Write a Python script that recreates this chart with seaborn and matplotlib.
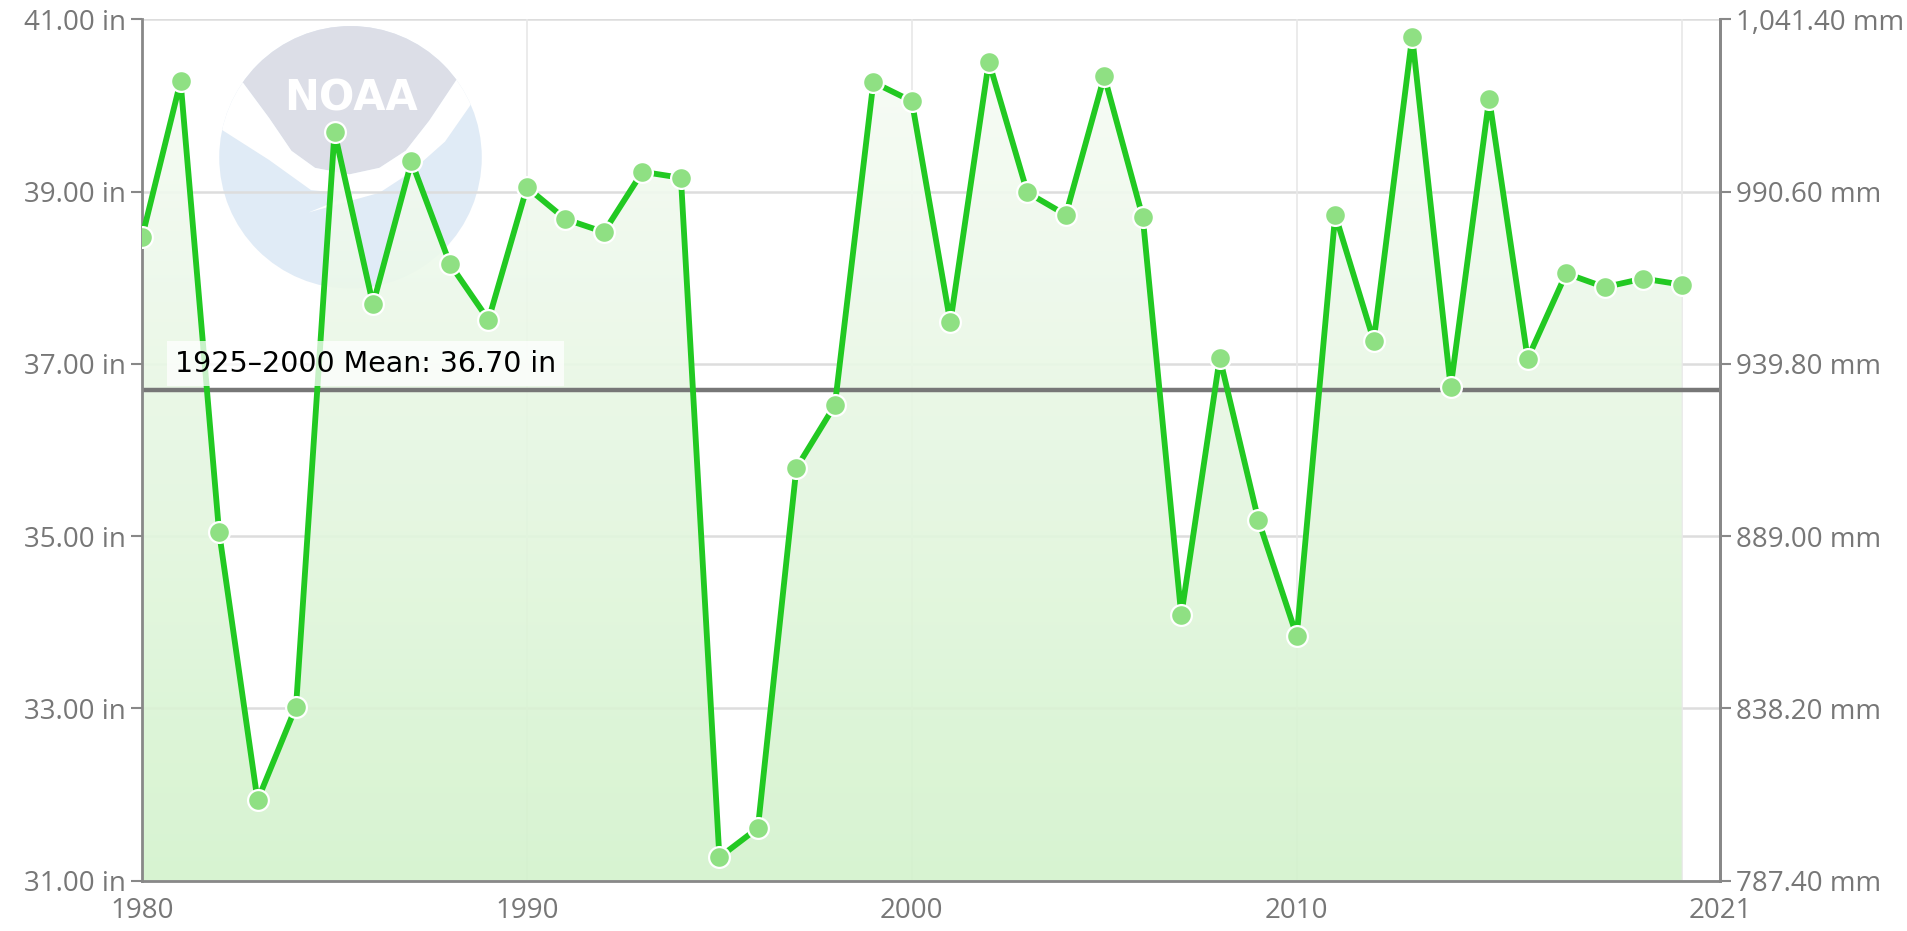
import numpy as np
import pandas as pd
import seaborn as sns
import matplotlib.pyplot as plt
from matplotlib.patches import Circle, Polygon
from matplotlib.ticker import FuncFormatter

# dados anuais de precipitacao (polegadas)
years = list(range(1980, 2021))
precip_in = [38.47, 40.28, 35.05, 31.93, 33.02, 39.69, 37.69, 39.35, 38.16, 37.51,
             39.05, 38.68, 38.53, 39.23, 39.16, 31.27, 31.61, 35.79, 36.52, 40.27,
             40.05, 37.48, 40.51, 38.99, 38.73, 40.34, 38.70, 34.08, 37.07, 35.19,
             33.84, 38.73, 37.27, 40.80, 36.73, 40.08, 37.06, 38.05, 37.89, 37.99,
             37.92]
mean_value = 36.70
mean_label = "1925–2000 Mean: 36.70 in"
y_ticks = [31, 33, 35, 37, 39, 41]
x_ticks = [1980, 1990, 2000, 2010, 2021]

df = pd.DataFrame({"ano": years, "precip": precip_in})

sns.set_style("white")
plt.rcParams["font.family"] = ["Open Sans", "DejaVu Sans"]

fig = plt.figure(figsize=(19.07, 9.31), dpi=100)

# marca d'agua NOAA (eixo pequeno atras do grafico)
logo = fig.add_axes([0.1148, 0.690, 0.138, 0.282], zorder=0)
logo.set_xlim(-1, 1)
logo.set_ylim(-1, 1)
logo.set_aspect("equal")
logo.axis("off")
disc = Circle((0, 0), 1, facecolor="#e0ebf6", edgecolor="none")
logo.add_patch(disc)
curva = [(-1.2, 1.2), (-1.2, 0.62), (-0.82, 0.57), (-0.62, 0.30), (-0.45, 0.05),
         (-0.27, -0.08), (-0.01, -0.13), (0.22, -0.08), (0.42, 0.05), (0.60, 0.28),
         (0.82, 0.61), (1.2, 0.62), (1.2, 1.2)]
cinza = Polygon(curva, facecolor="#dcdee7", edgecolor="none")
logo.add_patch(cinza)
cinza.set_clip_path(disc)
faixa = [(-1.2, 0.62), (-0.82, 0.57), (-0.62, 0.30), (-0.45, 0.05), (-0.27, -0.08),
         (-0.01, -0.13), (0.22, -0.08), (0.42, 0.05), (0.60, 0.28), (0.82, 0.61),
         (0.95, 0.45), (0.72, 0.12), (0.45, -0.12), (0.22, -0.27), (-0.32, -0.42),
         (0.02, -0.28), (-0.30, -0.25), (-0.62, -0.02), (-1.2, 0.35)]
branco = Polygon(faixa, facecolor="white", edgecolor="none")
logo.add_patch(branco)
branco.set_clip_path(disc)
logo.text(0, 0.45, "NOAA", ha="center", va="center", fontsize=30,
          fontweight="bold", color="white", family=["DejaVu Sans"])

ax = fig.add_axes([0.0745, 0.0542, 0.8275, 0.925], zorder=1)
ax.patch.set_visible(False)
ax.set_xlim(1980, 2021)
ax.set_ylim(31, 41)

# grade
for yv in y_ticks:
    ax.axhline(yv, color="#dddddd", lw=1.8, zorder=0.5)
for xv in [1990, 2000, 2010, 2020]:
    ax.axvline(xv, color="#e8e8e8", lw=1.2, zorder=0.5)

# area com gradiente
poly = ax.fill_between(df["ano"], df["precip"], 31, color="none", lw=0)
grad = np.linspace(0, 1, 256).reshape(-1, 1)
img = ax.imshow(grad, extent=[1980, 2020, 31, 41], origin="upper", aspect="auto",
                cmap=sns.blend_palette(["#f8fcf7", "#d3f2cc"], as_cmap=True),
                alpha=0.9, zorder=1)
img.set_clip_path(poly.get_paths()[0], transform=ax.transData)

# linha da media
ax.axhline(mean_value, color="#777777", lw=3.2, zorder=2)
ax.text(1980.85, mean_value + 0.14, mean_label, fontsize=20.5, color="black",
        family=["DejaVu Sans"], va="bottom", zorder=5,
        bbox=dict(facecolor="white", edgecolor="none", alpha=0.75, pad=6))

sns.lineplot(data=df, x="ano", y="precip", ax=ax, color="#22c922", lw=4.2,
             marker="o", markersize=15, markerfacecolor="#8fe083",
             markeredgecolor="white", markeredgewidth=1.6, zorder=4)

ax.set_xlabel("")
ax.set_ylabel("")
ax.set_xticks(x_ticks)
ax.set_xticks([2020], minor=True)
ax.set_yticks(y_ticks)
ax.yaxis.set_major_formatter(FuncFormatter(lambda v, p: f"{v:.2f} in"))
ax.tick_params(axis="both", which="both", direction="out", length=8, width=1.5,
               colors="#888888", labelsize=20, labelcolor="#777777")
ax.tick_params(axis="x", which="minor", length=10)

ax.spines["top"].set_visible(False)
for s in ["left", "right", "bottom"]:
    ax.spines[s].set_color("#888888")
    ax.spines[s].set_linewidth(2)

# eixo direito em mm
ax2 = ax.twinx()
ax2.set_ylim(31 * 25.4, 41 * 25.4)
ax2.set_yticks([v * 25.4 for v in y_ticks])
ax2.yaxis.set_major_formatter(FuncFormatter(lambda v, p: f"{v:,.2f} mm"))
ax2.tick_params(axis="y", direction="out", length=8, width=1.5,
                colors="#888888", labelsize=20, labelcolor="#777777")
for s in ["top", "left", "bottom"]:
    ax2.spines[s].set_visible(False)
ax2.spines["right"].set_color("#888888")
ax2.spines["right"].set_linewidth(2)

fig.savefig("out.png", dpi=100)
